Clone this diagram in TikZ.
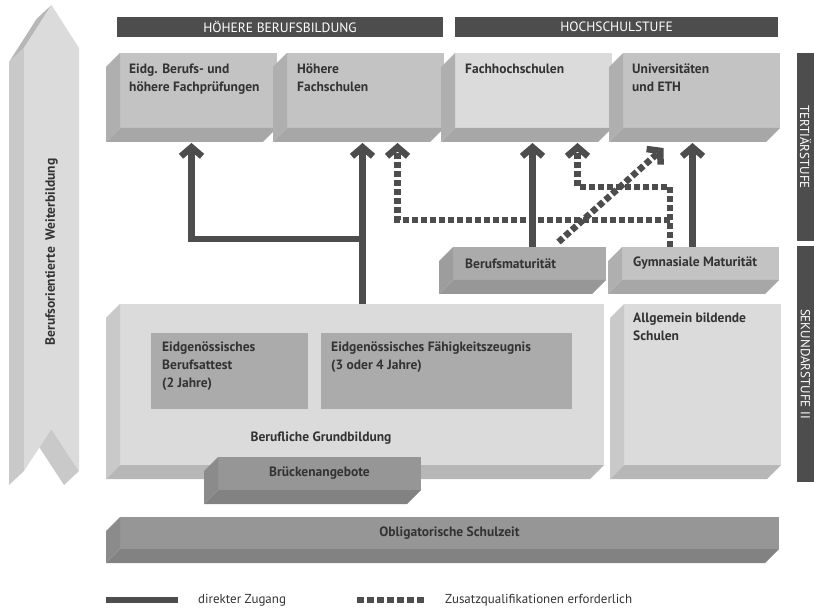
\documentclass[tikz,border=0pt]{standalone}
\usepackage{fontspec}
\setmainfont{PT Sans}
\usetikzlibrary{positioning,arrows.meta,calc}
\definecolor{dark}{HTML}{4D4D4D}
\definecolor{ink}{HTML}{333333}
\definecolor{pale}{HTML}{DBDBDB}
\definecolor{paleL}{HTML}{C9C9C9}
\definecolor{paleB}{HTML}{B7B7B7}
\definecolor{mid}{HTML}{C3C3C3}
\definecolor{midL}{HTML}{AFAFAF}
\definecolor{midB}{HTML}{A7A7A7}
\definecolor{deep}{HTML}{ABABAB}
\definecolor{deepL}{HTML}{9D9D9D}
\definecolor{deepB}{HTML}{979797}
\definecolor{dim}{HTML}{969696}
\definecolor{dimL}{HTML}{8B8B8B}
\definecolor{dimB}{HTML}{828282}
\tikzstyle{face} = [rectangle, inner sep=0pt, outer sep=0pt, anchor=north west]
\tikzstyle{bar} = [face, fill=dark, text=white, minimum height=20pt, font=\fontsize{13.5}{15}\selectfont]
\tikzstyle{lbl} = [inner sep=0pt, anchor=north west, align=left, text=ink, font=\bfseries\fontsize{13.5}{18}\selectfont]
\tikzstyle{legend} = [inner sep=0pt, anchor=west, text=ink, font=\fontsize{13}{15}\selectfont]
\tikzstyle{direct} = [draw=dark, line width=6.5pt, -{Straight Barb[length=9pt,width=21pt]}]
\tikzstyle{extra} = [direct, dash pattern=on 6pt off 3pt]
% left and bottom faces of a block
\newcommand{\boxbevel}[3]{%
  \fill[#2] (#1.north west) -- ++(-14,14) -- ($(#1.south west)+(-14,14)$) -- (#1.south west) -- cycle;
  \fill[#3] (#1.south west) -- ++(-14,14) -- ($(#1.south east)+(-14,14)$) -- (#1.south east) -- cycle;}

\begin{document}
\begin{tikzpicture}[x=1pt, y=-1pt]
\useasboundingbox (0,0) rectangle (814,609);

% continuing education arrow
\fill[paleB] (24,48) -- (51.5,5) -- (36.5,19) -- (9,62) -- cycle;
\fill[paleL] (24,471) -- (24,48) -- (9,62) -- (9,485) -- cycle;
\fill[paleL] (79,471) -- (51.5,429) -- (36.5,443) -- (64,485) -- cycle;
\fill[pale] (51.5,5) -- (79,48) -- (79,471) -- (51.5,429) -- (24,471) -- (24,48) -- cycle;
\node[lbl, anchor=center, rotate=90] (wb) at (51.5,252) {Berufsorientierte\enspace Weiterbildung};

% headers and side bands
\node[bar, minimum width=326pt] (hb) at (117,17) {HÖHERE BERUFSBILDUNG};
\node[bar, minimum width=323pt] (hs) at (455,17) {HOCHSCHULSTUFE};
\node[face, fill=dark, minimum width=17pt, minimum height=188pt] (tb) at (797,53) {};
\node[face, fill=dark, minimum width=17pt, minimum height=236pt, below=5pt of tb] (sb) {};
\node[text=white, rotate=-90, font=\fontsize{13}{14}\selectfont] at (tb.center) {TERTIÄRSTUFE};
\node[text=white, rotate=-90, font=\fontsize{13}{14}\selectfont] at (sb.center) {SEKUNDARSTUFE II};

% tertiary level
\node[face, fill=mid, minimum width=157pt, minimum height=75pt] (eidg) at (120,53) {};
\node[face, fill=mid, minimum width=157pt, minimum height=75pt, right=10pt of eidg] (hfs) {};
\node[face, fill=pale, minimum width=157pt, minimum height=75pt, right=11pt of hfs] (fh) {};
\node[face, fill=mid, minimum width=157pt, minimum height=75pt, right=11pt of fh] (uni) {};
\boxbevel{eidg}{midL}{midB}
\boxbevel{hfs}{midL}{midB}
\boxbevel{fh}{midL}{midB}
\boxbevel{uni}{midL}{midB}
\node[lbl] at ($(eidg.north west)+(9,11)$) {Eidg. Berufs- und\\höhere Fachprüfungen};
\node[lbl] at ($(hfs.north west)+(10,11)$) {Höhere\\Fachschulen};
\node[lbl] at ($(fh.north west)+(10,11)$) {Fachhochschulen};
\node[lbl] at ($(uni.north west)+(9,11)$) {Universitäten\\und ETH};

% maturity
\node[face, fill=deep, minimum width=153pt, minimum height=33pt] (bm) at (453,247) {};
\node[face, fill=mid, minimum width=157pt, minimum height=33pt, right=16pt of bm] (gm) {};
\boxbevel{bm}{deepL}{deepB}
\boxbevel{gm}{midL}{midB}
\node[lbl, anchor=west] at ($(bm.west)+(12,0)$) {Berufsmaturität};
\node[lbl, anchor=west] at ($(gm.west)+(11,0)$) {Gymnasiale Maturität};

% upper secondary level
\node[face, fill=pale, minimum width=484pt, minimum height=161pt] (bg) at (120,304) {};
\node[face, fill=pale, minimum width=157pt, minimum height=161pt, right=20pt of bg] (ab) {};
\boxbevel{bg}{paleL}{paleB}
\boxbevel{ab}{paleL}{paleB}
\node[face, fill=deep, minimum width=157pt, minimum height=76pt] (ba) at (151,333) {};
\node[face, fill=deep, minimum width=251pt, minimum height=76pt, right=13pt of ba] (fz) {};
\node[lbl] at ($(ba.north west)+(11,9)$) {Eidgenössisches\\Berufsattest\\(2 Jahre)};
\node[lbl] at ($(fz.north west)+(10,9)$) {Eidgenössisches Fähigkeitszeugnis\\(3 oder 4 Jahre)};
\node[lbl, anchor=base] at (321,442) {Berufliche Grundbildung};
\node[lbl] at ($(ab.north west)+(9,9)$) {Allgemein bildende\\Schulen};

% bridge offers and compulsory school
\node[face, fill=dim, minimum width=203pt, minimum height=33pt] (bk) at (218,457) {};
\boxbevel{bk}{dimL}{dimB}
\node[lbl, anchor=center] at (bk.center) {Brückenangebote};
\node[face, fill=dim, minimum width=659pt, minimum height=32pt] (ob) at (120,517) {};
\boxbevel{ob}{dimL}{dimB}
\node[lbl, anchor=center] at (ob.center) {Obligatorische Schulzeit};

% access paths
\coordinate (eidgIn) at ($(eidg.south)+(-7,15)$);
\coordinate (hfsIn) at ($(hfs.south)+(-3,15)$);
\coordinate (hfsIn2) at ($(hfs.south)+(32,15)$);
\coordinate (fhIn) at ($(fh.south)+(-1,15)$);
\coordinate (fhIn2) at ($(fh.south)+(44,15)$);
\coordinate (uniIn) at ($(uni.south)+(-9,15)$);
\coordinate (uniIn2) at ($(uni.south)+(-38,20)$);
\coordinate (jn) at ($(bg.north -| hfsIn)+(0,-65)$);
\coordinate (gmOut) at ($(gm.north)+(-30.5,0)$);

\draw[direct] (bg.north -| hfsIn) -- (hfsIn);
\draw[direct] (jn) -| (eidgIn);
\draw[direct] (bm.north -| fhIn) -- (fhIn);
\draw[direct] (gm.north -| uniIn) -- (uniIn);
\draw[extra] (gmOut) |- ($(fhIn2)+(0,44)$) -- (fhIn2);
\draw[extra] ($(gmOut)+(0,-27)$) -| (hfsIn2);
\draw[extra] ($(bm.north)+(29,-5)$) -- (uniIn2);

% legend
\node[coordinate] (lg1) at (106,600) {};
\node[coordinate, right=72pt of lg1] (lg2) {};
\draw[draw=dark, line width=6.5pt] (lg1) -- (lg2);
\node[legend, right=20pt of lg2] {direkter Zugang};
\node[coordinate] (lg3) at (357,600) {};
\node[coordinate, right=67pt of lg3] (lg4) {};
\draw[draw=dark, line width=6.5pt, dash pattern=on 7pt off 3pt] (lg3) -- (lg4);
\node[legend, right=21pt of lg4] {Zusatzqualifikationen erforderlich};
\end{tikzpicture}
\end{document}
